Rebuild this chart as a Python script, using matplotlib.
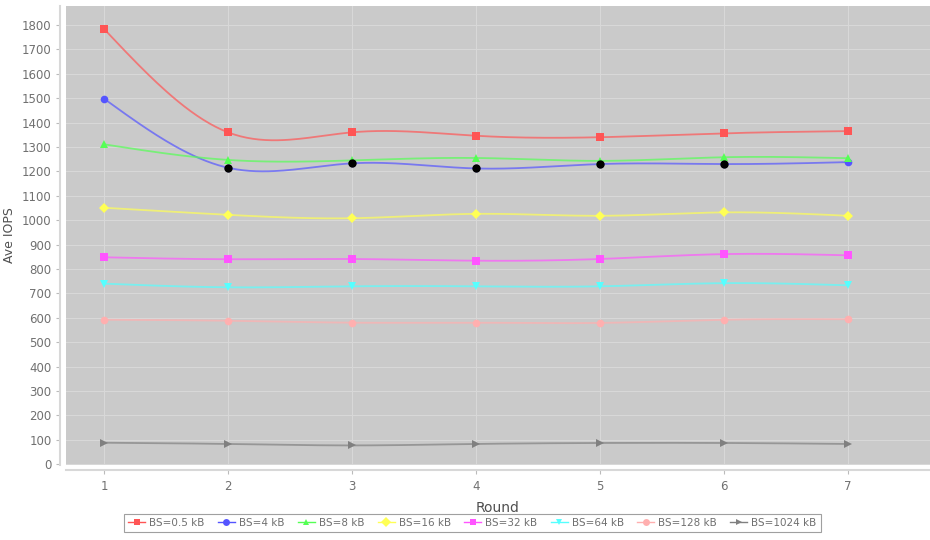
import matplotlib
matplotlib.use('Agg')
import matplotlib.pyplot as plt
import numpy as np

# dados
rounds = [1, 2, 3, 4, 5, 6, 7]

labels = ['BS=0.5 kB', 'BS=4 kB', 'BS=8 kB', 'BS=16 kB',
          'BS=32 kB', 'BS=64 kB', 'BS=128 kB', 'BS=1024 kB']

iops_05k = [1784, 1360, 1360, 1346, 1340, 1356, 1365]
iops_4k = [1498, 1215, 1233, 1212, 1230, 1230, 1238]
iops_8k = [1311, 1247, 1245, 1255, 1243, 1258, 1254]
iops_16k = [1051, 1022, 1008, 1026, 1018, 1032, 1018]
iops_32k = [848, 840, 841, 834, 841, 861, 856]
iops_64k = [740, 725, 729, 729, 729, 742, 733]
iops_128k = [592, 588, 580, 580, 579, 592, 594]
iops_1024k = [88, 83, 77, 83, 87, 87, 83]

# pontos pretos sobre a serie de 4 kB
destaque_rounds = [2, 3, 4, 5, 6]

series = [iops_05k, iops_4k, iops_8k, iops_16k,
          iops_32k, iops_64k, iops_128k, iops_1024k]
cores = ['#ff5555', '#5555ff', '#55ff55', '#ffff55',
         '#ff55ff', '#55ffff', '#ffafaf', '#808080']
marcadores = ['s', 'o', '^', 'D', 's', 'v', 'o', '>']


def spline_natural(x, y, n=40):
    # spline cubica natural para desenhar a curva suave
    x = np.asarray(x, dtype=float)
    y = np.asarray(y, dtype=float)
    k = len(x)
    h = np.diff(x)
    A = np.zeros((k, k))
    b = np.zeros(k)
    A[0, 0] = 1
    A[-1, -1] = 1
    for i in range(1, k - 1):
        A[i, i - 1] = h[i - 1]
        A[i, i] = 2 * (h[i - 1] + h[i])
        A[i, i + 1] = h[i]
        b[i] = 6 * ((y[i + 1] - y[i]) / h[i] - (y[i] - y[i - 1]) / h[i - 1])
    M = np.linalg.solve(A, b)
    xs, ys = [], []
    for i in range(k - 1):
        t = np.linspace(x[i], x[i + 1], n, endpoint=(i == k - 2))
        a = x[i + 1] - t
        c = t - x[i]
        v = (M[i] * a ** 3 + M[i + 1] * c ** 3) / (6 * h[i]) \
            + (y[i] / h[i] - M[i] * h[i] / 6) * a \
            + (y[i + 1] / h[i] - M[i + 1] * h[i] / 6) * c
        xs.extend(t)
        ys.extend(v)
    return np.array(xs), np.array(ys)


fig = plt.figure(figsize=(9.3, 5.4), dpi=100)
ax = fig.add_axes([0.071, 0.139, 0.929, 0.85])
ax.set_facecolor('#cacaca')

for vals, cor, mk, nome in zip(series, cores, marcadores, labels):
    xs, ys = spline_natural(rounds, vals)
    ax.plot(xs, ys, color=cor, lw=1.3, alpha=0.7, zorder=2)
    ax.plot(rounds, vals, linestyle='none', marker=mk, markersize=5.5,
            markeredgewidth=0, color=cor, zorder=3)
    ax.plot([], [], color=cor, marker=mk, markersize=5, markeredgewidth=0,
            linestyle='-', lw=1, label=nome)

# pontos pretos na serie de 4 kB
ys_dest = [iops_4k[rounds.index(r)] for r in destaque_rounds]
ax.plot(destaque_rounds, ys_dest, linestyle='none', marker='o', markersize=6,
        color='black', markeredgewidth=0, zorder=4)

ax.set_xlim(0.694, 7.66)
ax.set_ylim(-3, 1878)
ax.set_xticks(rounds)
ax.set_yticks(np.arange(0, 1801, 100))
ax.grid(True, color='#d9d9d9', lw=0.7)
ax.set_axisbelow(True)

for s in ['top', 'right']:
    ax.spines[s].set_visible(False)
for s in ['left', 'bottom']:
    ax.spines[s].set_position(('outward', 4))
    ax.spines[s].set_color('#d8d8d8')
    ax.spines[s].set_linewidth(1.5)

ax.tick_params(colors='#bbbbbb', labelcolor='#707070', labelsize=8.5, length=3)
ax.set_xlabel('Round', fontsize=10, color='#505050', labelpad=6)
ax.set_ylabel('Ave IOPS', fontsize=9, color='#505050', labelpad=4)

leg = fig.legend(loc='lower center', bbox_to_anchor=(0.508, 0.005), ncol=8,
                 fontsize=7.5, frameon=True, fancybox=False, handlelength=1.6,
                 handletextpad=0.4, columnspacing=1.3, borderpad=0.4)
leg.get_frame().set_edgecolor('#888888')
leg.get_frame().set_linewidth(0.8)
for t in leg.get_texts():
    t.set_color('#707070')

fig.savefig('out.png', dpi=100)
